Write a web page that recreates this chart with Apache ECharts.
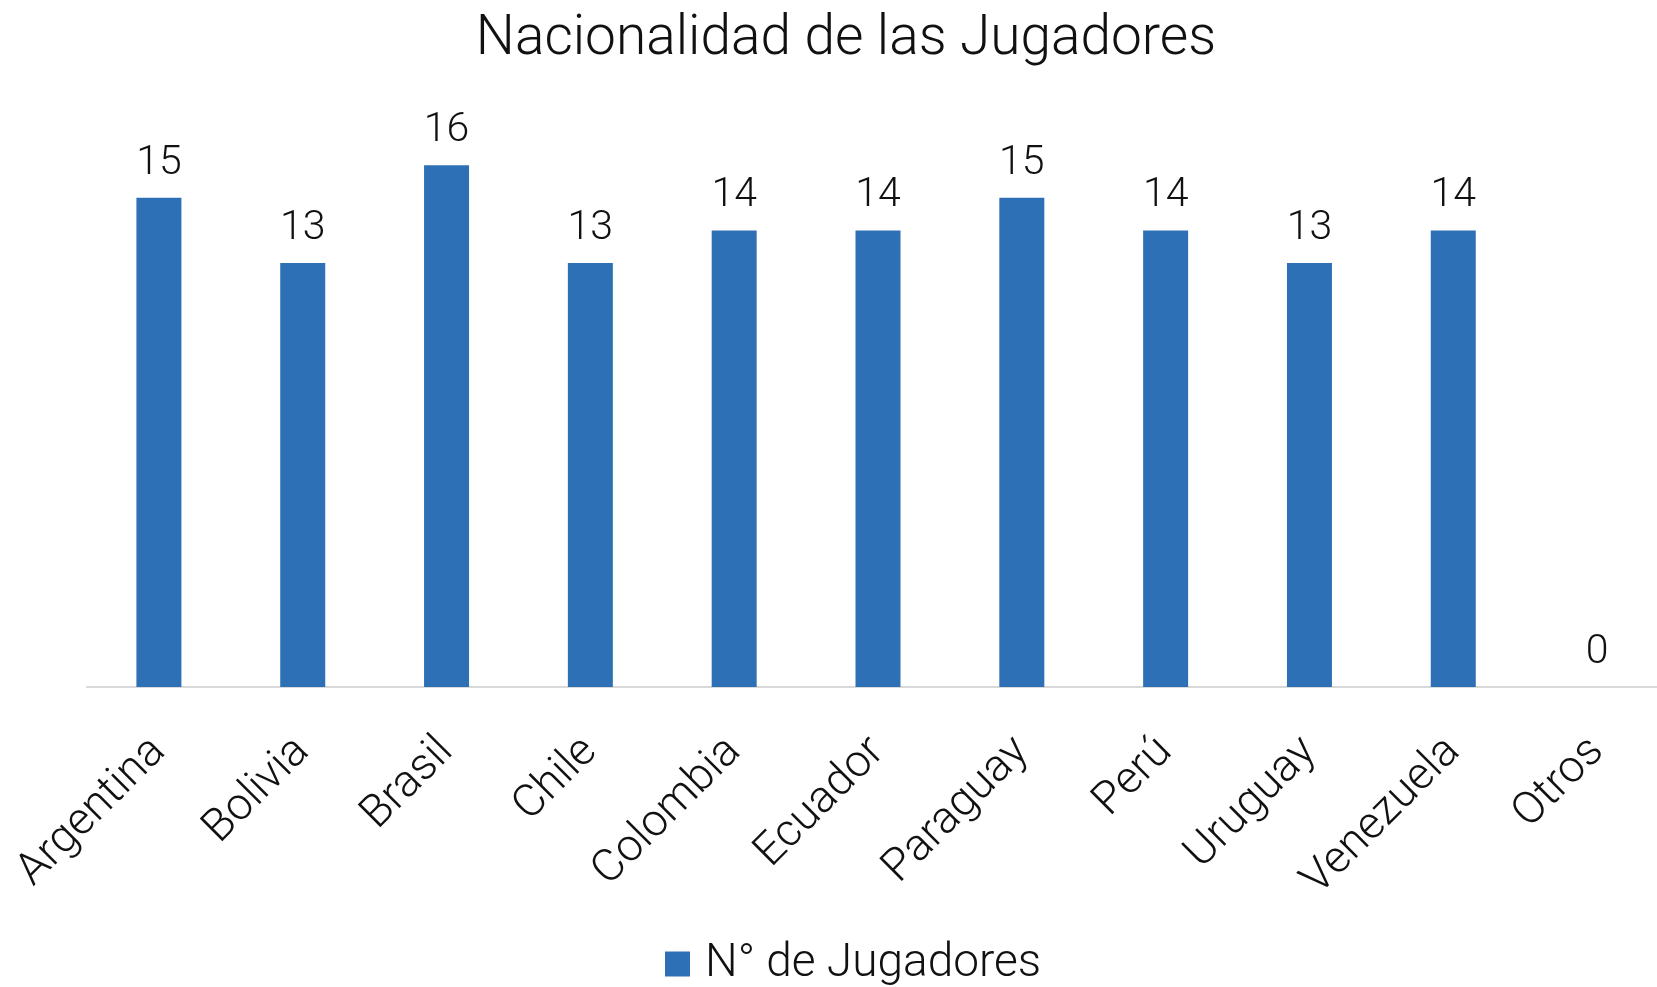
<!DOCTYPE html>
<html>
<head>
<meta charset="utf-8">
<script src="https://cdn.jsdelivr.net/npm/echarts@6/dist/echarts.min.js"></script>
<style>
  html, body { margin: 0; padding: 0; background: #fff; }
  #main { width: 1657px; height: 987px; }
</style>
</head>
<body>
<div id="main"></div>
<script>
var paises = ['Argentina', 'Bolivia', 'Brasil', 'Chile', 'Colombia', 'Ecuador',
  'Paraguay', 'Perú', 'Uruguay', 'Venezuela', 'Otros'];
var jugadores = [15, 13, 16, 13, 14, 14, 15, 14, 13, 14, 0];
var serieNombre = 'N° de Jugadores';

const FONT = 'Roboto, "DejaVu Sans", sans-serif';
const BLUE = '#2e70b6';

var chart = echarts.init(document.getElementById('main'));

var option = {
  animation: false,
  textStyle: { fontFamily: FONT },
  title: {
    text: 'Nacionalidad de las Jugadores',
    left: 841,
    top: 8,
    textAlign: 'center',
    textStyle: { fontFamily: FONT, fontSize: 55, fontWeight: 300, color: '#111' }
  },
  legend: {
    data: [serieNombre],
    left: 660,
    top: 936,
    itemWidth: 25,
    itemHeight: 25,
    icon: 'rect',
    textStyle: { fontFamily: FONT, fontSize: 46, fontWeight: 300, color: '#111', padding: [0, 0, 0, 10] }
  },
  grid: {
    left: 87,
    right: -12,
    top: 100,
    bottom: 300,
    containLabel: false,
    outerBoundsMode: 'none'
  },
  xAxis: {
    type: 'category',
    data: paises,
    axisTick: { show: false },
    axisLine: { lineStyle: { color: '#d9d9d9', width: 2 } },
    axisLabel: {
      rotate: 45,
      margin: 58,
      interval: 0,
      fontFamily: FONT,
      fontSize: 45,
      fontWeight: 300,
      color: '#111'
    }
  },
  yAxis: {
    type: 'value',
    min: 0,
    max: 18,
    show: false,
    splitLine: { show: false }
  },
  series: [{
    name: serieNombre,
    type: 'bar',
    data: jugadores,
    barWidth: 45,
    itemStyle: { color: BLUE },
    label: {
      show: true,
      position: 'top',
      distance: 14,
      fontFamily: FONT,
      fontSize: 41,
      fontWeight: 300,
      color: '#111'
    }
  }]
};

chart.setOption(option);
</script>
</body>
</html>
